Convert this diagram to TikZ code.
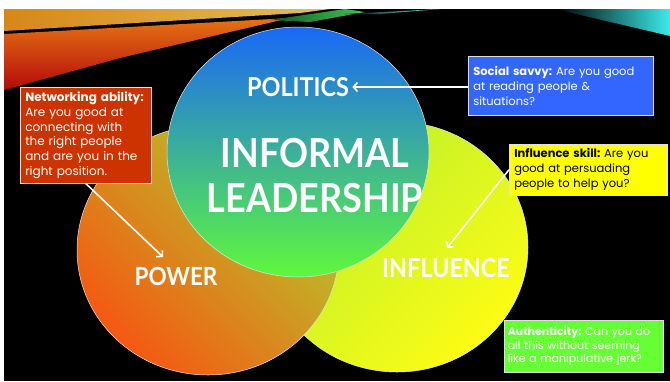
\documentclass[tikz,border=0pt]{standalone}
\usepackage{fontspec}
\setmainfont{Poppins}
\newfontfamily\headfont[FakeStretch=0.9]{Lato}
\usetikzlibrary{arrows.meta,positioning}
\definecolor{netred}{RGB}{204,51,0}
\definecolor{savvyblue}{RGB}{51,102,255}
\definecolor{skillyellow}{RGB}{255,255,0}
\definecolor{authgreen}{RGB}{102,255,51}
\tikzset{
  ring/.style={draw=white!80!gray, line width=0.5pt},
  notebox/.style={draw=white!75!gray, line width=0.5pt, anchor=north west, align=left,
    inner xsep=5pt, inner ysep=3pt, font=\fontsize{11.5}{15}\selectfont},
  headline/.style={text=white, font=\headfont\bfseries},
  pointer/.style={draw=white, line width=1.6pt, -{Straight Barb[length=4pt,width=9pt]}}
}
\begin{document}
\frenchspacing
\begin{tikzpicture}[x=1pt, y=-1pt]
  \useasboundingbox (0,0) rectangle (670,381);
  \fill[white] (0,0) rectangle (670,381);
  \fill[black] (4,9) rectangle (670,381);
  % streaks along the top
  \shade[left color={rgb,255:red,215;green,135;blue,25}, right color={rgb,255:red,225;green,190;blue,90}]
    (4,9) -- (330,9) -- (300,13) -- (4,31) -- cycle;
  \shade[top color={rgb,255:red,230;green,115;blue,20}, bottom color={rgb,255:red,180;green,10;blue,10}]
    (4,34) -- (290,18) -- (230,32) -- (120,58) -- (4,90) -- cycle;
  \shade[left color={rgb,255:red,20;green,90;blue,30}, right color={rgb,255:red,60;green,200;blue,90}]
    (270,20) -- (345,9) -- (365,12) -- (310,22) -- cycle;
  \shade[left color=black, right color={rgb,255:red,120;green,240;blue,240}]
    (345,14) -- (440,9) -- (380,14) -- cycle;
  \shade[left color=black, right color={rgb,255:red,60;green,235;blue,235}]
    (555,9) -- (670,9) -- (670,36) -- cycle;
  % the three rings
  \shade[ring, top color={rgb,255:red,185;green,240;blue,45}, bottom color={rgb,255:red,252;green,252;blue,20}, shading angle=45]
    (397,247) ellipse [x radius=131, y radius=125];
  \shade[ring, top color={rgb,255:red,178;green,204;blue,45}, bottom color={rgb,255:red,245;green,88;blue,18}, shading angle=-45]
    (208,250) ellipse [x radius=131, y radius=125];
  \shade[ring, top color={rgb,255:red,25;green,105;blue,245}, bottom color={rgb,255:red,95;green,248;blue,60}]
    (298,152) ellipse [x radius=131, y radius=125];
  % labels
  \node[headline, font=\headfont\bfseries\fontsize{26}{30}\selectfont] (politics) at (298,87) {POLITICS};
  \node[headline, align=center, font=\headfont\bfseries\fontsize{40}{45}\selectfont] (core) at (315,176) {INFORMAL\\LEADERSHIP};
  \node[headline, font=\headfont\bfseries\fontsize{25}{30}\selectfont] (power) at (176,276) {POWER};
  \node[headline, font=\headfont\bfseries\fontsize{26}{30}\selectfont] (influence) at (446,268) {INFLUENCE};
  % notes
  \node[notebox, fill=netred, text=white, text width=121pt, minimum height=96pt, font=\fontsize{12}{14.8}\selectfont] (net) at (20,87)
    {\textbf{Networking ability:}\\Are you good at\\connecting with\\the right people\\and are you in the\\right position.};
  \node[notebox, fill=savvyblue, text=white, text width=175pt, minimum height=59pt] (savvy) at (468,56)
    {\textbf{Social savvy:} Are you good\\at reading people \&\\situations?};
  \node[notebox, fill=skillyellow, text=black, text width=148pt, minimum height=51pt] (skill) at (509,144)
    {\textbf{Influence skill:} Are you\\good at persuading\\people to help you?};
  \node[notebox, fill=authgreen, text=white, text width=152pt, inner xsep=3.5pt, minimum height=52pt, font=\fontsize{11}{13.5}\selectfont] (auth) at (504,320)
    {\textbf{Authenticity:} Can you do\\all this without seeming\\like a manipulative jerk?};
  % pointers
  \coordinate (powertip) at (163,257);
  \coordinate (influencetip) at (447,248);
  \draw[pointer] (savvy.west |- politics) -- (politics.east);
  \draw[pointer] (net.south) -- (powertip);
  \draw[pointer] (skill.west) -- (influencetip);
\end{tikzpicture}
\end{document}
